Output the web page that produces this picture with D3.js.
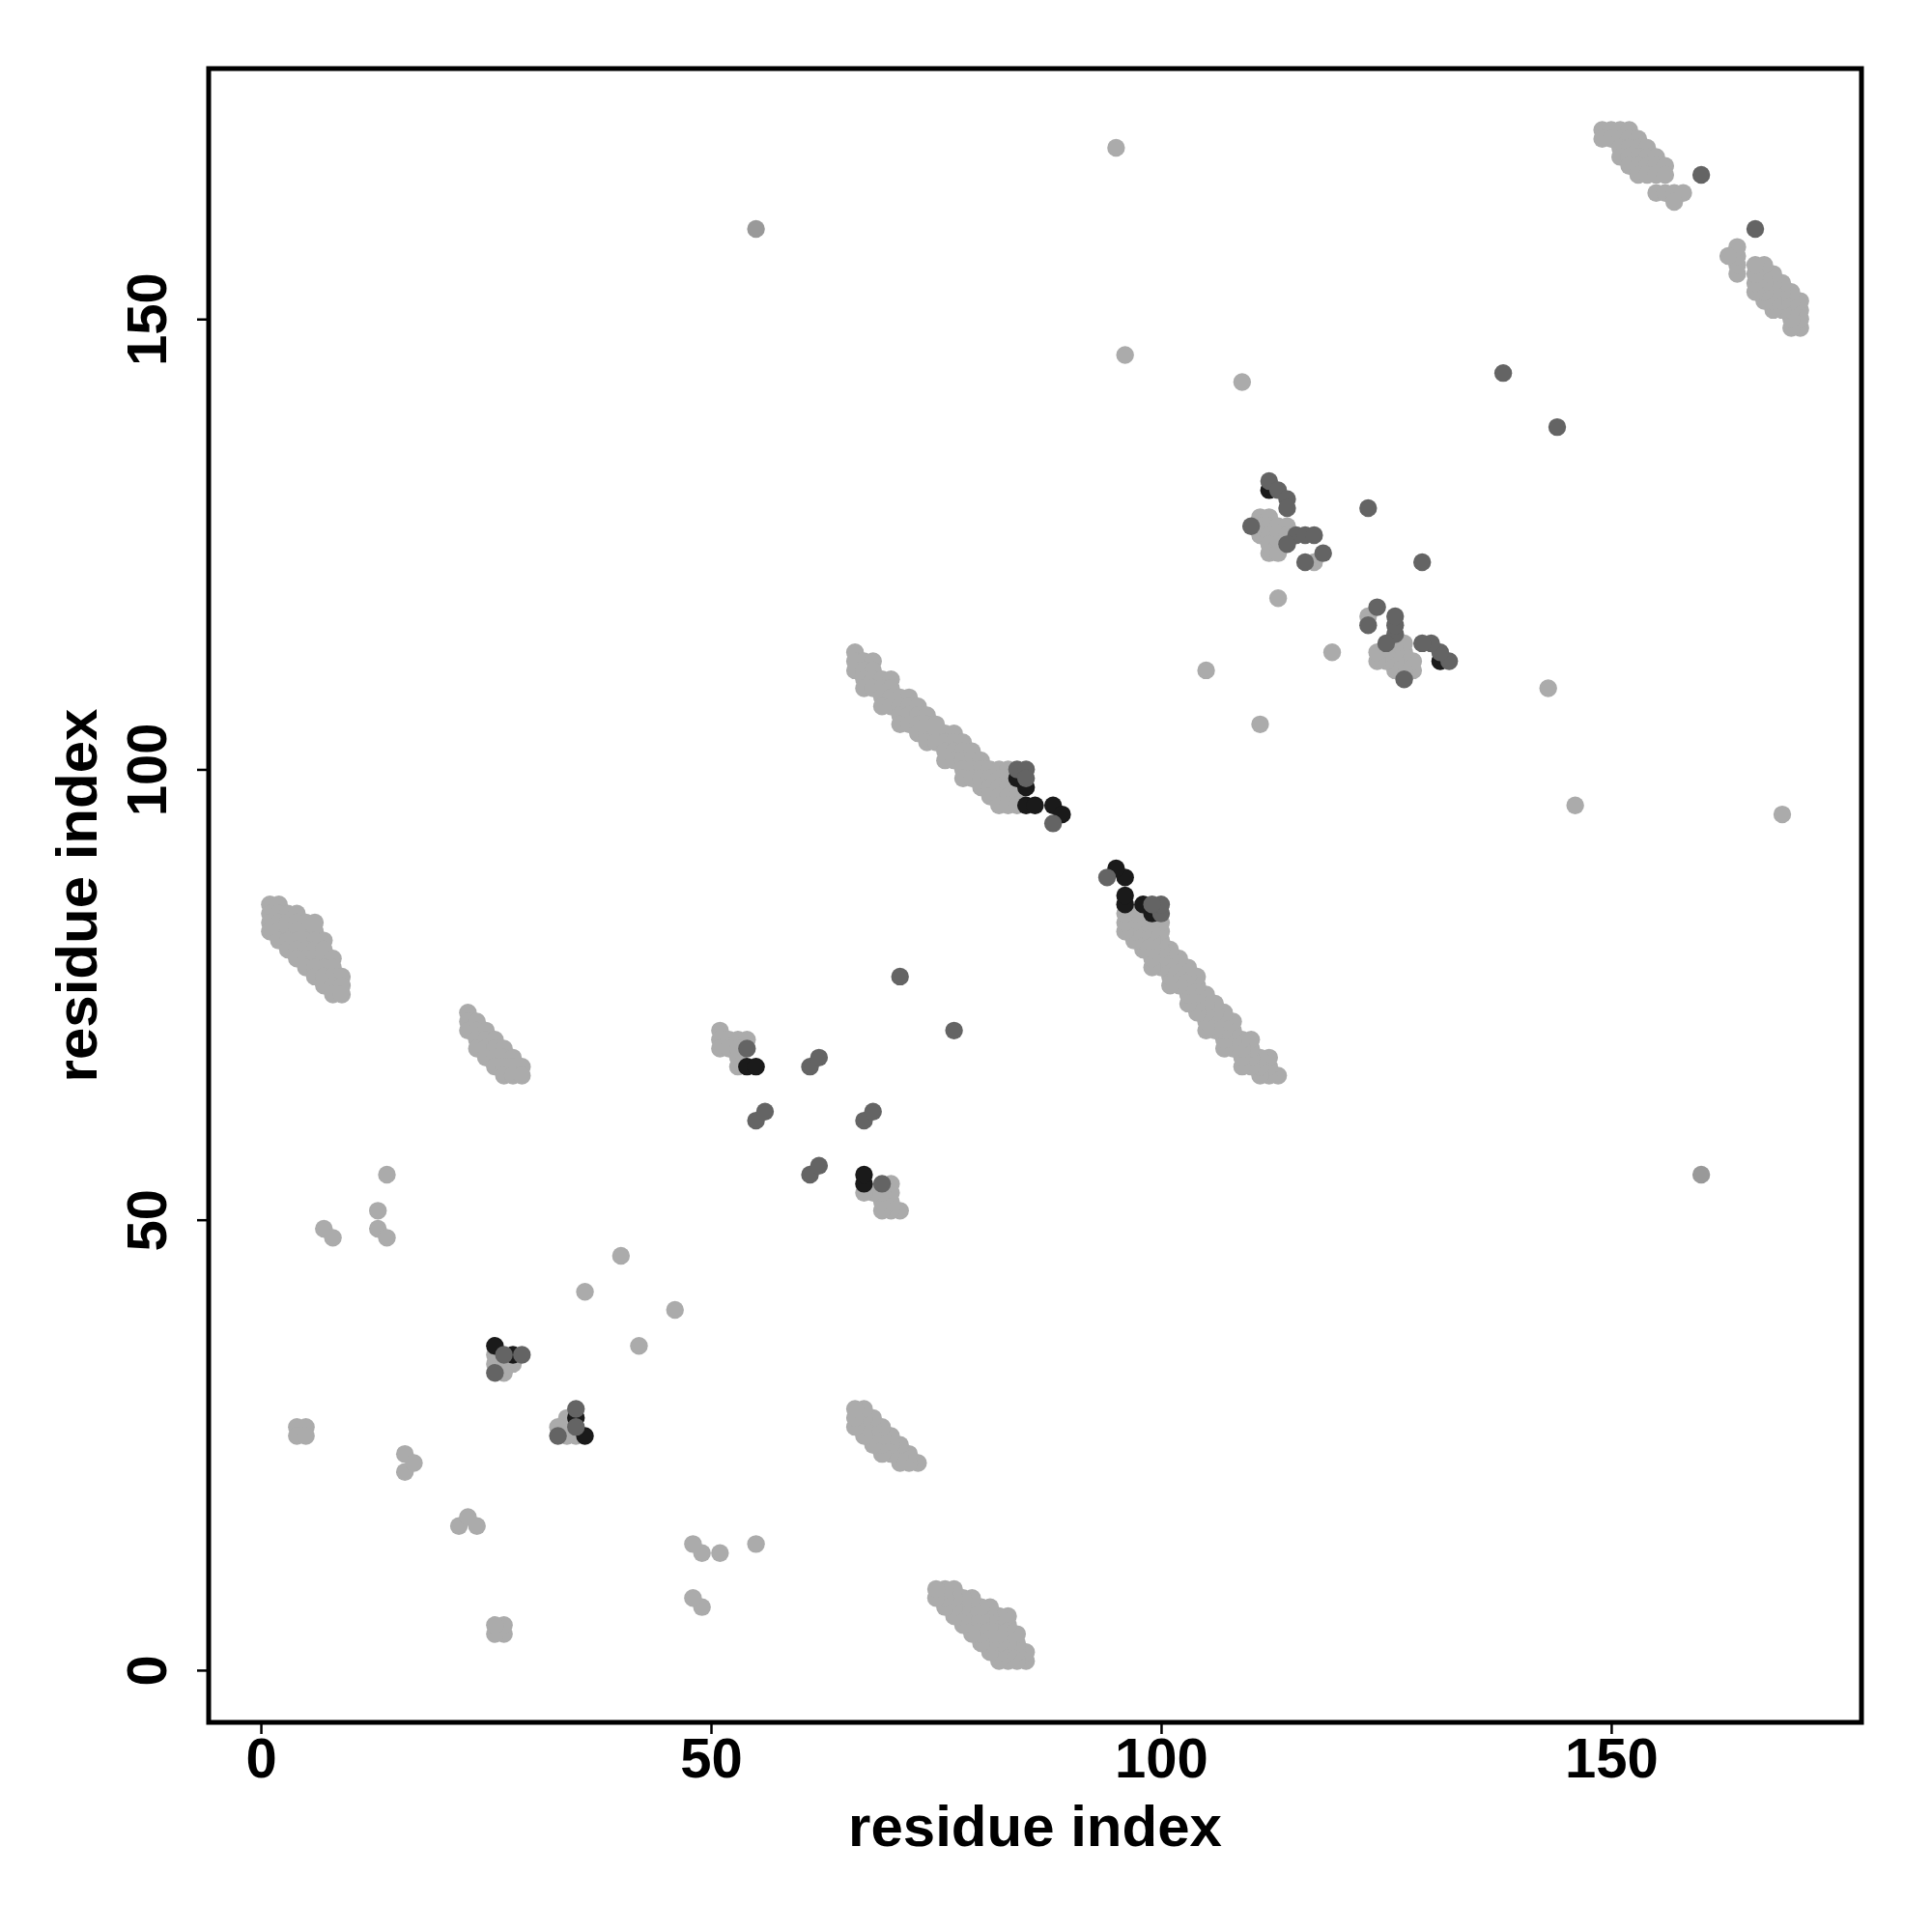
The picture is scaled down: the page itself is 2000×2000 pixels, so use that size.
<!DOCTYPE html>
<html><head><meta charset="utf-8">
<script src="https://cdn.jsdelivr.net/npm/d3@7"></script>
<style>body{margin:0;background:#fff}</style>
</head><body>
<svg id="chart" width="2000" height="2000" xmlns="http://www.w3.org/2000/svg"></svg>
<script>
// Tick values and labels
const xTicks = [0, 50, 100, 150];
const yTicks = [0, 50, 100, 150];
const xTitle = "residue index";
const yTitle = "residue index";

// Contacts [i, j] with i < j (contact map is symmetric: drawn at (i,j) and (j,i))
const lightContacts = [
  // strand pairing 66-90 / 94-113
  [66,113],
  [66,112],[67,112],[68,112],
  [66,111],[67,111],[68,111],
  [67,110],[68,110],[69,110],[70,110],
  [67,109],[68,109],[69,109],[70,109],
  [69,108],[70,108],[71,108],[72,108],
  [69,107],[70,107],[71,107],[72,107],[73,107],
  [71,106],[72,106],[73,106],[74,106],
  [71,105],[72,105],[73,105],[74,105],[75,105],
  [73,104],[74,104],[75,104],[76,104],[77,104],
  [74,103],[75,103],[76,103],[77,103],[78,103],
  [76,102],[77,102],[78,102],[79,102],
  [76,101],[77,101],[78,101],[79,101],[80,101],
  [78,100],[79,100],[80,100],[81,100],[82,100],[83,100],
  [78,99],[79,99],[80,99],[81,99],[82,99],[83,99],
  [80,98],[81,98],[82,98],[83,98],[84,98],
  [81,97],[82,97],[83,97],[84,97],
  [82,96],[83,96],[84,96],
  // strand pairing 149-158 / 163-171
  [149,171],[150,171],[151,171],[152,171],
  [149,170],[150,170],[151,170],[152,170],[153,170],
  [151,169],[152,169],[153,169],[154,169],
  [151,168],[152,168],[153,168],[154,168],[155,168],
  [152,167],[153,167],[154,167],[155,167],[156,167],
  [153,166],[154,166],[155,166],[156,166],
  [155,164],[156,164],[157,164],[158,164],
  [157,163],
  // strand pairing 1-9 / 75-85
  [1,85],[2,85],
  [1,84],[2,84],[3,84],[4,84],
  [1,83],[2,83],[3,83],[4,83],[5,83],[6,83],
  [1,82],[2,82],[3,82],[4,82],[5,82],[6,82],
  [2,81],[3,81],[4,81],[5,81],[6,81],[7,81],
  [3,80],[4,80],[5,80],[6,80],[7,80],
  [4,79],[5,79],[6,79],[7,79],[8,79],
  [5,78],[6,78],[7,78],[8,78],
  [6,77],[7,77],[8,77],[9,77],
  [7,76],[8,76],[9,76],
  [8,75],[9,75],
  // strand pairing 23-29 / 66-73
  [23,73],
  [23,72],[24,72],
  [23,71],[24,71],[25,71],
  [24,70],[25,70],[26,70],
  [24,69],[25,69],[26,69],[27,69],
  [25,68],[26,68],[27,68],[28,68],
  [26,67],[27,67],[28,67],[29,67],
  [27,66],[28,66],[29,66],
  // cluster 51-55 / 67-71
  [51,71],[51,70],[51,69],[52,70],[53,70],[54,70],[52,69],[53,69],[53,68],[53,67],
  // cluster 26-29 / 33-37
  [26,35],[26,34],[27,34],[28,34],[27,33],
  // cluster 110-118 / 122-132
  [111,128],[112,128],[111,127],[112,127],[113,127],[114,127],
  [111,126],[112,126],[113,126],[114,126],
  [112,125],[113,125],[112,124],[113,124],[117,123],
  // isolated
  [95,169],[96,146],[109,143],[105,111],[113,119],
  [4,27],[5,27],[4,26],[5,26],
  [7,49],[8,48],[13,51],[13,49],[14,48],[14,55],
  [16,24],[16,22],[17,23],[36,42],[40,46]
];
const greyContacts = [[55,160]];
const darkContacts = [
  [112,131],[54,67],[55,67],[26,36],[28,35],
  [84,99],[85,98],[85,96],[86,96],[88,96],[89,95]
];
const mediumContacts = [
  [138,144],[160,166],[71,77],[61,67],[62,68],[55,61],[56,62],
  [123,129],[110,127],[112,132],[113,131],[114,130],[114,129],
  [115,126],[116,126],[117,126],[114,125],[116,123],[118,124],
  [54,69],[84,100],[85,100],[85,99],[88,94],
  [26,33],[27,35],[29,35]
];

const svg = d3.select("#chart");
const x = d3.scaleLinear().domain([-5.8, 177.8]).range([216, 1927]);
const y = d3.scaleLinear().domain([-5.8, 177.8]).range([1783, 71]);

const groups = [
  {data: lightContacts, color: "#ababab"},
  {data: greyContacts, color: "#999999"},
  {data: darkContacts, color: "#1a1a1a"},
  {data: mediumContacts, color: "#646464"}
];

const pts = svg.append("g");
groups.forEach(g => {
  const both = [];
  g.data.forEach(d => { both.push([d[0], d[1]]); both.push([d[1], d[0]]); });
  pts.selectAll(null).data(both).enter().append("circle")
    .attr("cx", d => x(d[0]))
    .attr("cy", d => y(d[1]))
    .attr("r", 9.2)
    .attr("fill", g.color);
});

const font = "'Liberation Sans', Arial, Helvetica, sans-serif";

// x axis
const gx = svg.append("g").attr("transform", "translate(0,1783)")
  .call(d3.axisBottom(x).tickValues(xTicks).tickSize(12).tickFormat(d3.format("d")));
gx.select(".domain").remove();
gx.selectAll("line").attr("stroke", "#000").attr("stroke-width", 2.5);
gx.selectAll("text").attr("y", 57).attr("dy", 0)
  .attr("font-family", font).attr("font-weight", "bold").attr("font-size", 58).attr("fill", "#000");

// y axis
const gy = svg.append("g").attr("transform", "translate(216,0)")
  .call(d3.axisLeft(y).tickValues(yTicks).tickSize(12).tickFormat(d3.format("d")));
gy.select(".domain").remove();
gy.selectAll("line").attr("stroke", "#000").attr("stroke-width", 2.5);
gy.selectAll("text").attr("transform", "rotate(-90)").attr("x", 0).attr("y", -44).attr("dy", 0)
  .attr("text-anchor", "middle")
  .attr("font-family", font).attr("font-weight", "bold").attr("font-size", 58).attr("fill", "#000");

// frame
svg.append("rect").attr("x", 216).attr("y", 71).attr("width", 1711).attr("height", 1712)
  .attr("fill", "none").attr("stroke", "#000").attr("stroke-width", 5);

// titles
svg.append("text").attr("x", 1071.5).attr("y", 1911).attr("text-anchor", "middle")
  .attr("font-family", font).attr("font-weight", "bold").attr("font-size", 60).text(xTitle);
svg.append("text").attr("transform", "translate(100,927) rotate(-90)").attr("text-anchor", "middle")
  .attr("font-family", font).attr("font-weight", "bold").attr("font-size", 60).text(yTitle);
</script>
</body></html>
